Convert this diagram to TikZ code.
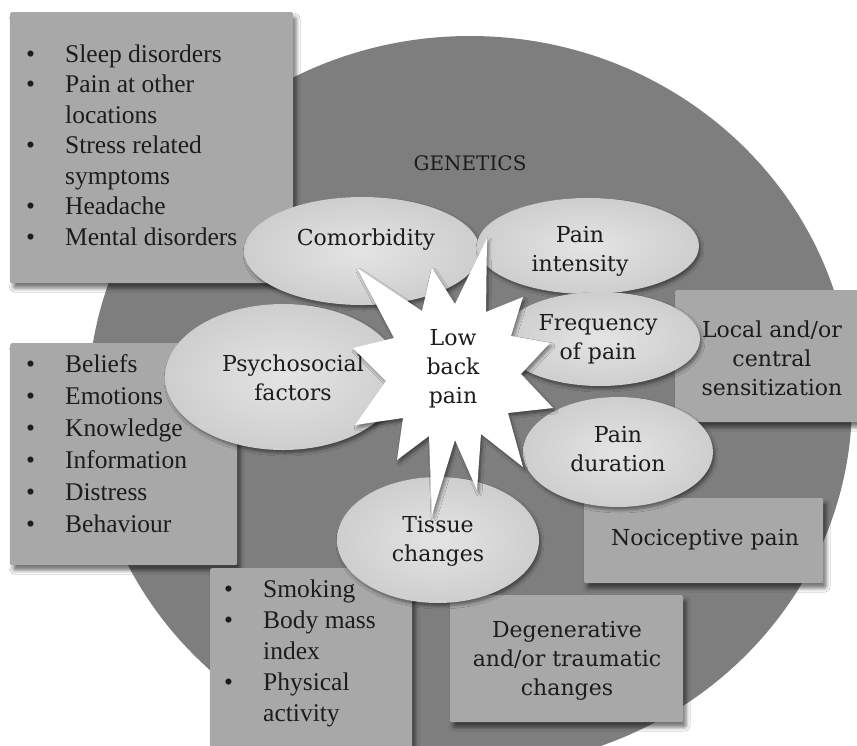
\documentclass[tikz,border=0pt]{standalone}
\usepackage{fontspec}
\setmainfont{Liberation Serif}
\newfontfamily\cfont{DejaVu Serif}
\usetikzlibrary{shapes.geometric,shadows.blur}
\definecolor{circ}{RGB}{126,126,126}
\definecolor{boxc}{RGB}{168,168,168}
\definecolor{ellc}{RGB}{206,206,206}
\definecolor{ellin}{RGB}{228,228,228}
\definecolor{txt}{RGB}{28,28,28}
\tikzset{
  boxsh/.style={blur shadow={shadow xshift=3pt,shadow yshift=-5pt,shadow blur radius=4pt,shadow opacity=55}},
  infobox/.style={rectangle,fill=boxc,boxsh,inner sep=0pt,rounded corners=1.5pt},
  ell/.style={ellipse,inner sep=0pt,inner color=ellin,outer color=ellc,
    blur shadow={shadow xshift=2pt,shadow yshift=-3pt,shadow blur radius=3pt,shadow opacity=45}},
  ctext/.style={font=\cfont\fontsize{22}{29}\selectfont,text=txt,align=center,inner sep=0pt},
  ltext/.style={font=\fontsize{25.5}{30.5}\selectfont,text=txt,anchor=base west,inner sep=0pt},
}
\begin{document}
\begin{tikzpicture}[x=1pt,y=-1pt]
\clip (0,0) rectangle (857,745);
\fill[white] (0,0) rectangle (857,745);
% big circle
\fill[circ] (470,402) ellipse [x radius=382, y radius=366];
\node[ctext,font=\cfont\fontsize{20}{24}\selectfont] (gen) at (470,163) {GENETICS};
% boxes
\path (10,12) node[infobox,anchor=north west,minimum width=283pt,minimum height=271pt] (box1) {};
\path (10,343) node[infobox,anchor=north west,minimum width=227pt,minimum height=222pt] (box2) {};
\path (210,568) node[infobox,anchor=north west,minimum width=202pt,minimum height=190pt] (box3) {};
\path (450,595) node[infobox,anchor=north west,minimum width=233pt,minimum height=127pt] (box4) {};
\path (584,498) node[infobox,anchor=north west,minimum width=239pt,minimum height=85pt] (box5) {};
\path (675,290) node[infobox,anchor=north west,minimum width=190pt,minimum height=132pt] (box6) {};
% lists
\node[ltext] (list1) at (26,62) {\begin{tabular}[t]{@{}p{39pt}@{}l@{}}
\textbullet & Sleep disorders\\
\textbullet & Pain at other\\
 & locations\\
\textbullet & Stress related\\
 & symptoms\\
\textbullet & Headache\\
\textbullet & Mental disorders
\end{tabular}};
\node[ltext,font=\fontsize{25.5}{32}\selectfont] (list2) at (26,372) {\begin{tabular}[t]{@{}p{39pt}@{}l@{}}
\textbullet & Beliefs\\
\textbullet & Emotions\\
\textbullet & Knowledge\\
\textbullet & Information\\
\textbullet & Distress\\
\textbullet & Behaviour
\end{tabular}};
\node[ltext,font=\fontsize{25.5}{31}\selectfont] (list3) at (224,597) {\begin{tabular}[t]{@{}p{39pt}@{}l@{}}
\textbullet & Smoking\\
\textbullet & Body mass\\
 & index\\
\textbullet & Physical\\
 & activity
\end{tabular}};
\node[ctext] (tloc) at (772,358) {Local and/or\\central\\sensitization};
\node[ctext] (tnoc) at (705,540) {Nociceptive pain};
\node[ctext] (tdeg) at (567,661) {Degenerative\\and/or traumatic\\changes};
% ellipses
\node[ell,minimum width=236pt,minimum height=108pt] (ecom) at (362,251) {};
\node[ell,minimum width=222pt,minimum height=96pt] (eint) at (588,246) {};
\node[ell,minimum width=200pt,minimum height=94pt] (efre) at (600,339) {};
\node[ell,minimum width=190pt,minimum height=110pt] (edur) at (618,452) {};
\node[ell,minimum width=202pt,minimum height=126pt] (etis) at (438,540) {};
\node[ell,minimum width=236pt,minimum height=146pt] (epsy) at (283,377) {};
\node[ctext] (tcom) at (366,240) {Comorbidity};
\node[ctext] (tint) at (580,251) {Pain\\intensity};
\node[ctext] (tfre) at (598,339) {Frequency\\of pain};
\node[ctext] (tdur) at (618,449) {Pain\\duration};
\node[ctext] (ttis) at (438,541) {Tissue\\changes};
\node[ctext] (tpsy) at (293,378) {Psychosocial\\factors};
% star
\fill[white,blur shadow={shadow xshift=2pt,shadow yshift=-3pt,shadow blur radius=3pt,shadow opacity=45}]
 (487,238) -- (486,312) -- (523,297) -- (511,336) -- (550,343) -- (521,374) --
 (553,408) -- (508,413) -- (523,467) -- (481,434) -- (477,490) -- (455,440) --
 (432,515) -- (429,436) -- (397,460) -- (403,418) -- (355,425) -- (386,381) --
 (353,348) -- (394,338) -- (357,268) -- (422,311) -- (432,268) -- (455,304) -- cycle;
\node[ctext] (tlbp) at (453,369) {Low\\back\\pain};
\end{tikzpicture}
\end{document}
